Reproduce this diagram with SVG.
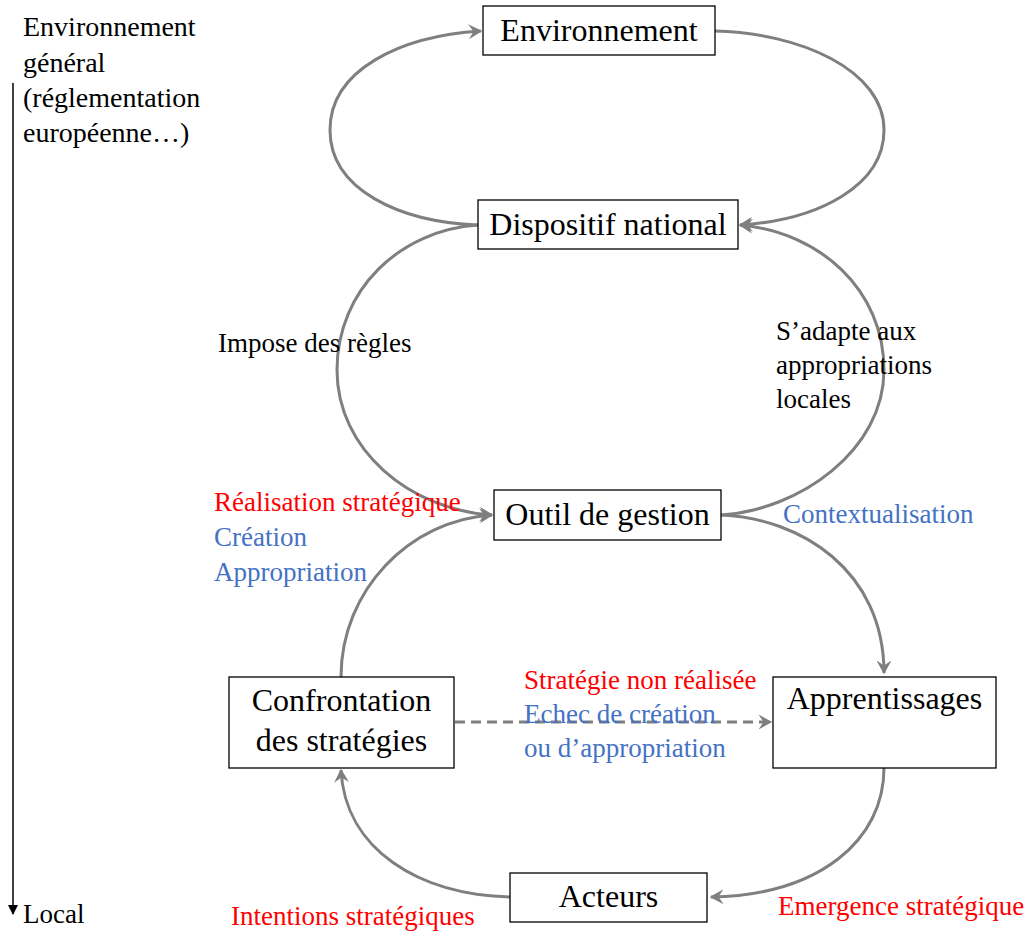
<svg xmlns="http://www.w3.org/2000/svg" width="1032" height="932" viewBox="0 0 1032 932">
<defs>
<style>
.box{fill:#fff;stroke:#000;stroke-width:1.3}
.bt{font-family:"Liberation Serif",serif;font-size:32px;fill:#000;text-anchor:middle}
.lb{font-family:"Liberation Serif",serif;font-size:27px}
.k{fill:#000}.r{fill:#ff0000}.b{fill:#4472c4}
.c{fill:none;stroke:#7f7f7f;stroke-width:3;marker-end:url(#ah)}
.d{stroke-dasharray:10,6}
</style>
<marker id="ah" viewBox="0 0 12 12" refX="10" refY="6" markerWidth="5" markerHeight="5" orient="auto" markerUnits="strokeWidth">
<path d="M0,0 L11,6 L0,12 L4,6 z" fill="#7f7f7f"/>
</marker>
<marker id="bk" viewBox="0 0 10 10" refX="9" refY="5" markerWidth="10" markerHeight="10" orient="auto" markerUnits="userSpaceOnUse">
<path d="M0,0 L10,5 L0,10 z" fill="#000"/>
</marker>
</defs>
<rect width="1032" height="932" fill="#fff"/>
<g id="connectors">
<path class="c" d="M478,225 C400,222 330,190 330,130 C330,70 400,36 481,31"/>
<path class="c" d="M715,31 C800,33 884,70 884,130 C884,185 820,220 740,225"/>
<path class="c" d="M478,225 C400,230 337,290 337,370 C337,450 410,510 492,515"/>
<path class="c" d="M721,515 C800,510 884,450 884,370 C884,290 820,232 740,225"/>
<path class="c" d="M721,515 C800,518 884,570 884,673"/>
<path class="c" d="M341,677 C341,590 410,520 492,515"/>
<path class="c" d="M884,768 C884,840 820,895 711,897"/>
<path class="c" d="M510,897 C420,895 345,850 341,770"/>
<path class="c d" d="M455,722 L771,722"/>
<line x1="13" y1="83" x2="13" y2="914" stroke="#000" stroke-width="1.5" marker-end="url(#bk)"/>
</g>
<g id="n-environnement"><rect class="box" x="483" y="6" width="232" height="49"/><text class="bt" x="599" y="41">Environnement</text></g>
<g id="n-dispositif"><rect class="box" x="478" y="200" width="260" height="49"/><text class="bt" x="608" y="235">Dispositif national</text></g>
<g id="n-outil"><rect class="box" x="494" y="490" width="227" height="50"/><text class="bt" x="607.5" y="525">Outil de gestion</text></g>
<g id="n-confrontation"><rect class="box" x="229" y="677" width="225" height="91"/><text class="bt" x="341.5" y="711">Confrontation</text><text class="bt" x="341.5" y="751">des stratégies</text></g>
<g id="n-apprentissages"><rect class="box" x="773" y="677" width="223" height="91"/><text class="bt" x="884.5" y="709">Apprentissages</text></g>
<g id="n-acteurs"><rect class="box" x="510" y="873" width="197" height="49"/><text class="bt" x="608.5" y="907">Acteurs</text></g>
<g id="labels">
<text class="lb k" style="font-size:28px" x="23"><tspan x="23" y="36">Environnement</tspan><tspan x="23" y="72">général</tspan><tspan x="23" y="107">(réglementation</tspan><tspan x="23" y="142">européenne…)</tspan></text>
<text class="lb k" x="23" y="923">Local</text>
<text class="lb k" x="218" y="352">Impose des règles</text>
<text class="lb k"><tspan x="776" y="340">S’adapte aux</tspan><tspan x="776" y="374">appropriations</tspan><tspan x="776" y="408">locales</tspan></text>
<text class="lb r" x="214" y="511">Réalisation stratégique</text>
<text class="lb b" x="214" y="546">Création</text>
<text class="lb b" x="214" y="581">Appropriation</text>
<text class="lb b" x="783" y="523">Contextualisation</text>
<text class="lb r" x="524" y="689">Stratégie non réalisée</text>
<text class="lb b" x="524" y="723">Echec de création</text>
<text class="lb b" x="524" y="757">ou d’appropriation</text>
<text class="lb r" x="231" y="925">Intentions stratégiques</text>
<text class="lb r" x="778" y="915">Emergence stratégique</text>
</g>
</svg>
